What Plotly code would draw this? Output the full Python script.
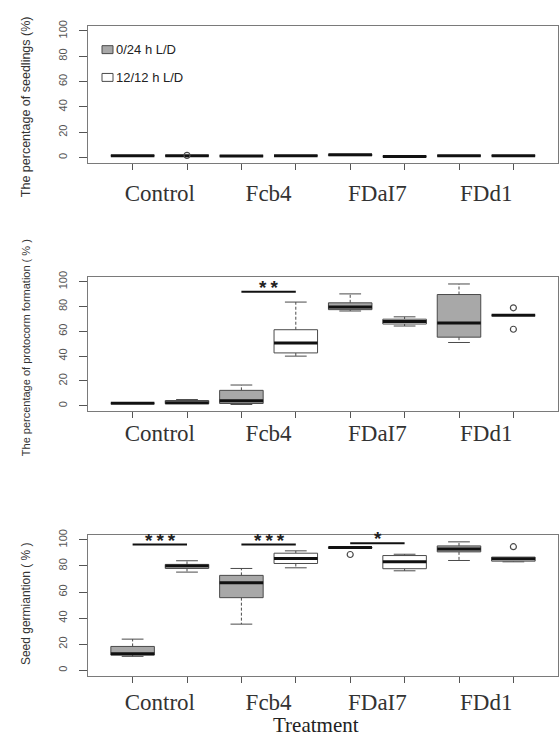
import plotly.graph_objects as go

# ---------------- data ----------------
categories = ["Control", "Fcb4", "FDaI7", "FDd1"]
conditions = ["0/24 h L/D", "12/12 h L/D"]
box_positions = [1, 2, 3, 4, 5, 6, 7, 8]          # Control(0/24,12/12), Fcb4(...), FDaI7(...), FDd1(...)
box_condition = [0, 1, 0, 1, 0, 1, 0, 1]          # index into conditions

y_ticks = [0, 20, 40, 60, 80, 100]

# Panel 1: percentage of seedlings
seed_low  = [1.5, 1.5, 1.3, 1.5, 1.6, 1.0, 1.5, 1.5]
seed_q1   = [1.5, 1.5, 1.3, 1.5, 1.6, 1.0, 1.5, 1.5]
seed_med  = [1.5, 1.5, 1.3, 1.5, 2.2, 1.0, 1.5, 1.5]
seed_q3   = [1.5, 1.5, 1.3, 1.5, 2.6, 1.0, 1.5, 1.5]
seed_high = [1.5, 1.5, 1.3, 1.5, 2.6, 1.0, 1.5, 1.5]
seed_out  = [[], [1.8], [], [], [], [], [], []]

# Panel 2: percentage of protocorm formation
proto_low  = [2.0, 1.6, 1.0, 40.0, 76.4, 64.3, 51.0, 73.0]
proto_q1   = [2.0, 1.6, 1.8, 42.6, 77.5, 65.9, 55.3, 73.0]
proto_med  = [2.0, 2.4, 4.0, 50.5, 79.6, 68.0, 66.7, 73.0]
proto_q3   = [2.0, 4.2, 12.4, 61.3, 83.0, 69.8, 89.7, 73.0]
proto_high = [2.0, 5.0, 16.7, 83.6, 90.2, 71.7, 98.2, 73.0]
proto_out  = [[], [], [], [], [], [], [], [79.0, 61.7]]

# Panel 3: seed germination
germ_low  = [10.7, 75.3, 35.4, 78.6, 93.6, 76.3, 84.2, 83.2]
germ_q1   = [11.7, 78.1, 55.7, 81.9, 93.6, 77.9, 90.8, 83.7]
germ_med  = [12.7, 79.9, 67.2, 85.7, 94.1, 83.2, 93.1, 85.5]
germ_q3   = [18.3, 81.2, 72.8, 89.8, 94.5, 88.0, 95.4, 86.8]
germ_high = [23.9, 84.0, 78.1, 91.6, 94.5, 89.0, 98.5, 86.8]
germ_out  = [[], [], [], [], [88.8], [], [], [94.8]]

# significance brackets: (left box, right box, line value, label, label value)
proto_sig = [(3, 4, 92.0, "**", 92.0)]
germ_sig = [(1, 2, 96.4, "***", 96.4), (3, 4, 96.4, "***", 96.4), (5, 6, 97.5, "*", 97.5)]

y_titles = ["The percentage of seedlings (%)",
            "The percentage of protocorm formation ( % )",
            "Seed germiantion ( % )"]
x_title = "Treatment"

# ---------------- style ----------------
W, H = 559, 740
FILL = ["#a8a8a8", "#ffffff"]
EDGE = "#4a4a4a"
HALF = 0.4     # half box width
CAP = 0.2      # half staple width


def px_x(p):
    return p / W


def px_y(p):
    return 1 - p / H


fig = go.Figure()

panels = [
    dict(low=seed_low, q1=seed_q1, med=seed_med, q3=seed_q3, high=seed_high, out=seed_out, sig=[],
         top=20, bottom=158, title_c=102, title_size=12.5, standoff=10),
    dict(low=proto_low, q1=proto_q1, med=proto_med, q3=proto_q3, high=proto_high, out=proto_out, sig=proto_sig,
         top=273, bottom=408, title_c=345, title_size=11, standoff=2),
    dict(low=germ_low, q1=germ_q1, med=germ_med, q3=germ_q3, high=germ_high, out=germ_out, sig=germ_sig,
         top=533, bottom=675, title_c=603, title_size=12, standoff=6),
]

annotations = []
for k, P in enumerate(panels):
    sfx = "" if k == 0 else str(k + 1)
    xa, ya = "x" + sfx, "y" + sfx

    # whiskers (dashed) and staples
    wx, wy = [], []
    cx, cy = [], []
    for i, p in enumerate(box_positions):
        if P["high"][i] > P["q3"][i]:
            wx += [p, p, None]
            wy += [P["q3"][i], P["high"][i], None]
            cx += [p - CAP, p + CAP, None]
            cy += [P["high"][i], P["high"][i], None]
        if P["low"][i] < P["q1"][i]:
            wx += [p, p, None]
            wy += [P["q1"][i], P["low"][i], None]
            cx += [p - CAP, p + CAP, None]
            cy += [P["low"][i], P["low"][i], None]
    fig.add_trace(go.Scatter(x=wx, y=wy, mode="lines", xaxis=xa, yaxis=ya,
                             line=dict(color=EDGE, width=1, dash="3px,2px"), hoverinfo="skip"))
    fig.add_trace(go.Scatter(x=cx, y=cy, mode="lines", xaxis=xa, yaxis=ya,
                             line=dict(color=EDGE, width=1), hoverinfo="skip"))

    # boxes, by condition
    for c in range(2):
        bx, by = [], []
        for i, p in enumerate(box_positions):
            if box_condition[i] != c:
                continue
            bx += [p - HALF, p + HALF, p + HALF, p - HALF, p - HALF, None]
            by += [P["q1"][i], P["q1"][i], P["q3"][i], P["q3"][i], P["q1"][i], None]
        fig.add_trace(go.Scatter(x=bx, y=by, mode="lines", fill="toself", fillcolor=FILL[c],
                                 xaxis=xa, yaxis=ya, name=conditions[c],
                                 line=dict(color=EDGE, width=1), hoverinfo="skip"))

    # medians
    mx, my = [], []
    for i, p in enumerate(box_positions):
        mx += [p - HALF, p + HALF, None]
        my += [P["med"][i], P["med"][i], None]
    fig.add_trace(go.Scatter(x=mx, y=my, mode="lines", xaxis=xa, yaxis=ya,
                             line=dict(color="#111111", width=3), hoverinfo="skip"))

    # outliers
    ox, oy = [], []
    for i, p in enumerate(box_positions):
        for v in P["out"][i]:
            ox.append(p)
            oy.append(v)
    if ox:
        fig.add_trace(go.Scatter(x=ox, y=oy, mode="markers", xaxis=xa, yaxis=ya,
                                 marker=dict(symbol="circle-open", size=6,
                                             line=dict(color=EDGE, width=1.2), color=EDGE),
                                 hoverinfo="skip"))

    # significance
    for (a, b, yv, lab, ly) in P["sig"]:
        fig.add_trace(go.Scatter(x=[a, b], y=[yv, yv], mode="lines", xaxis=xa, yaxis=ya,
                                 line=dict(color="#111111", width=2), hoverinfo="skip"))
        annotations.append(dict(x=(a + b) / 2, y=ly, xref=xa, yref=ya, text=lab, showarrow=False,
                                yanchor="bottom", yshift=-10,
                                font=dict(family="Liberation Mono", size=19, color="#222222",
                                          weight="bold")))

    # y title
    annotations.append(dict(x=px_x(26), y=px_y(P["title_c"]), xref="paper", yref="paper",
                            text=y_titles[k], textangle=-90, showarrow=False,
                            xanchor="center", yanchor="middle",
                            font=dict(family="Liberation Sans", size=P["title_size"], color="#333333")))

    dom_y = [px_y(P["bottom"]), px_y(P["top"])]
    axis_x = dict(domain=[px_x(88), px_x(558)], range=[0.18, 8.82], anchor=ya,
                  showline=True, mirror=True, linecolor="#7a7a7a", linewidth=1,
                  showgrid=False, zeroline=False,
                  tickmode="array", tickvals=[1.5, 3.5, 5.5, 7.5], ticktext=categories,
                  ticks="", ticklabelstandoff=P["standoff"],
                  tickfont=dict(family="Liberation Serif", size=23, color="#333333"),
                  minor=dict(tickmode="array", tickvals=box_positions, ticks="outside",
                             ticklen=6, tickcolor="#555555", tickwidth=1))
    axis_y = dict(domain=dom_y, range=[-4, 104], anchor=xa,
                  showline=True, mirror=True, linecolor="#7a7a7a", linewidth=1,
                  showgrid=False, zeroline=False,
                  tickmode="array", tickvals=y_ticks, ticks="outside", ticklen=8,
                  tickcolor="#555555", tickangle=-90, ticklabelstandoff=8,
                  tickfont=dict(family="Liberation Sans", size=11, color="#555555"))
    fig.layout["xaxis" + sfx] = axis_x
    fig.layout["yaxis" + sfx] = axis_y

# x title
annotations.append(dict(x=px_x(316), y=0, xref="paper", yref="paper", text=x_title,
                        showarrow=False, xanchor="center", yanchor="bottom", yshift=1,
                        font=dict(family="Liberation Serif", size=21, color="#222222")))

# legend (drawn inside top panel)
shapes = []
leg_rows = [44, 72]
for c in range(2):
    yc = leg_rows[c]
    shapes.append(dict(type="rect", xref="paper", yref="paper",
                       x0=px_x(102), x1=px_x(113), y0=px_y(yc + 4), y1=px_y(yc - 4),
                       fillcolor=FILL[c], line=dict(color=EDGE, width=1)))
    annotations.append(dict(x=px_x(114), y=px_y(yc), xref="paper", yref="paper",
                            text=conditions[c], showarrow=False, xanchor="left", yanchor="middle",
                            font=dict(family="Liberation Sans", size=13, color="#222222")))

fig.update_layout(width=W, height=H, margin=dict(l=0, r=0, t=0, b=0),
                  paper_bgcolor="white", plot_bgcolor="white", showlegend=False,
                  annotations=annotations, shapes=shapes)

fig.write_html("out.html", config={"displayModeBar": False},
               post_script="document.body.style.margin='0';document.body.style.overflow='hidden';")
